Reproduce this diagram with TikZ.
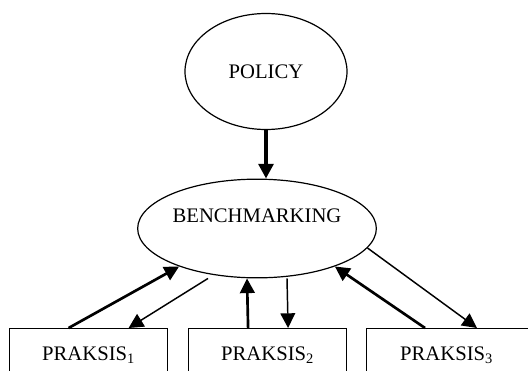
\documentclass[tikz,border=0pt]{standalone}
\usepackage{fontspec}
\setmainfont{Liberation Serif}
\usetikzlibrary{shapes.geometric,arrows.meta,calc}
\tikzset{
  oval/.style={draw,ellipse,line width=0.9pt,inner sep=0pt},
  praksisbox/.style={draw,rectangle,line width=0.9pt,minimum width=118.5pt,minimum height=40.5pt,anchor=north west,inner sep=0pt},
  up/.style={-{Triangle[length=11pt,width=11pt]},line width=2pt},
  down/.style={-{Triangle[length=11pt,width=11pt]},line width=1.1pt}
}
\begin{document}
\begin{tikzpicture}[x=0.75pt,y=-0.75pt,font=\fontsize{15.5}{18}\selectfont]
	\clip (0,0) rectangle (528,371);
	\node[oval,minimum width=121.5pt,minimum height=87pt] (policy) at (266,71.5) {POLICY};
	\node[oval,minimum width=165pt,minimum height=74pt,text height=11pt,text depth=20pt] (bench) at (257,228.5) {BENCHMARKING};
	\node[praksisbox] (p1) at (9,328) {PRAKSIS\textsubscript{1}};
	\node[praksisbox] (p2) at (188,328) {PRAKSIS\textsubscript{2}};
	\node[praksisbox,minimum width=135pt] (p3) at (366,328) {PRAKSIS\textsubscript{3}\hspace*{15pt}};
	% policy to benchmarking
	\draw[-{Triangle[length=11pt,width=11pt]},line width=3.5pt] (policy.south) -- (policy.south |- bench.north);
	% praksis <-> benchmarking
	\draw[up] ($(p1.north)+(-20,0)$) -- (bench.206);
	\draw[down] ($(bench.south)+(-49,0)$) -- ($(p1.north)+(40,0)$);
	\draw[up] ($(p2.north)+(-19.5,0)$) -- ($(bench.south)+(-10,0)$);
	\draw[down] ($(bench.south)+(30,0)$) -- ($(p2.north)+(20.5,0)$);
	\draw[up] ($(p3.north west)+(59,0)$) -- (bench.334);
	\draw[down] (bench.350) -- ($(p3.north west)+(111,0)$);
\end{tikzpicture}
\end{document}
